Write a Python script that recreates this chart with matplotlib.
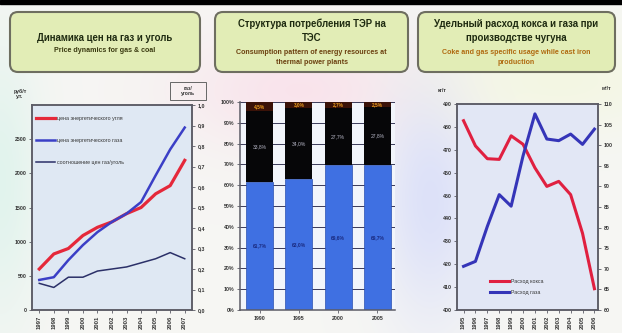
import numpy as np
import matplotlib
matplotlib.use("Agg")
import matplotlib.pyplot as plt
from matplotlib.patches import FancyBboxPatch, Rectangle
from matplotlib.ticker import FixedLocator

plt.rcParams['font.family'] = ['Liberation Sans', 'DejaVu Sans']

# ---------------- data ----------------
price_years = ["1997", "1998", "1999", "2000", "2001", "2002",
               "2003", "2004", "2005", "2006", "2007"]
coal_price = [600, 820, 900, 1090, 1210, 1290, 1410, 1500, 1700, 1820, 2190]
gas_price = [440, 480, 730, 950, 1140, 1290, 1410, 1580, 1970, 2350, 2670]
gas_coal_ratio = [0.13, 0.11, 0.16, 0.16, 0.19, 0.20, 0.21, 0.23, 0.25, 0.28, 0.25]

mix_years = ["1990", "1995", "2000", "2005"]
gas_share = [61.7, 63.0, 69.6, 69.7]
coal_share = [33.8, 34.0, 27.7, 27.8]
oil_share = [4.5, 3.0, 2.7, 2.5]

iron_years = ["1995", "1996", "1997", "1998", "1999", "2000",
              "2001", "2002", "2003", "2004", "2005", "2006"]
coke_rate = [482.7, 471.7, 466.1, 465.8, 476.1, 472.4,
             462.1, 454.0, 456.2, 450.4, 433.5, 409.3]
gas_rate = [70.6, 71.8, 80.3, 88.0, 85.2, 97.4,
            107.6, 101.5, 101.1, 102.7, 100.2, 103.9]

# ---------------- figure & backdrop ----------------
W, H = 622, 333
fig = plt.figure(figsize=(W / 100, H / 100), dpi=100)


def fig_rect(x0, y0, x1, y1):
    """Axes rectangle from pixel corners (origin top-left)."""
    return [x0 / W, 1 - y1 / H, (x1 - x0) / W, (y1 - y0) / H]


bg = fig.add_axes([0, 0, 1, 1], zorder=-5)
bg.set_xlim(0, W)
bg.set_ylim(H, 0)
bg.axis('off')

yy, xx = np.mgrid[0:H, 0:W]
img = np.ones((H, W, 3)) * np.array([0.965, 0.965, 0.955])


def tint(cx, cy, sx, sy, rgb, amt):
    g = np.exp(-(((xx - cx) / sx) ** 2 + ((yy - cy) / sy) ** 2))[..., None]
    return g * amt * (np.array(rgb) - img)


img += tint(300, 90, 120, 60, (0.98, 0.88, 0.92), 0.85)
img += tint(0, 180, 40, 140, (0.85, 0.95, 0.92), 0.7)
img += tint(430, 200, 50, 120, (0.85, 0.87, 0.98), 0.85)
img += tint(560, 80, 120, 50, (0.95, 0.97, 0.85), 0.6)
bg.imshow(np.clip(img, 0, 1), extent=[0, W, H, 0], aspect='auto', zorder=0)
bg.add_patch(Rectangle((0, 0), W, 3.5, color='black', zorder=1))

# ---------------- title boxes ----------------
boxes = [
    (10, 200, ["Динамика цен на газ и уголь"],
     ["Price dynamics for gas & coal"], '#3a3a10'),
    (215, 408, ["Структура потребления ТЭР на", "ТЭС"],
     ["Consumption pattern of energy resources at", "thermal power plants"], '#6b4010'),
    (418, 615, ["Удельный расход кокса и газа при", "производстве чугуна"],
     ["Coke and gas specific usage while cast iron", "production"], '#b06a10'),
]
for x0, x1, title, sub, subcol in boxes:
    bg.add_patch(FancyBboxPatch((x0, 12), x1 - x0, 60,
                                boxstyle="round,pad=0,rounding_size=8",
                                facecolor='#e2edb6', edgecolor='#6e6e60',
                                lw=1.5, zorder=2))
    cx = (x0 + x1) / 2
    n = len(title) + len(sub)
    if n == 2:
        ys = [38, 51]
    else:
        ys = [24, 38, 52, 62]
    for i, t in enumerate(title):
        bg.text(cx, ys[i], t, ha='center', va='center', fontsize=6.9,
                fontweight='bold', color='#1e2a10', zorder=3)
    for j, t in enumerate(sub):
        bg.text(cx, ys[len(title) + j], t, ha='center', va='center',
                fontsize=5.1, fontweight='bold', color=subcol, zorder=3)

SPINE = '#5c5c66'
TICKC = '#333333'


def style_axes(ax):
    for s in ax.spines.values():
        s.set_color(SPINE)
        s.set_linewidth(1.1)
    ax.tick_params(length=2, width=0.6, color=SPINE, labelsize=3.8,
                   labelcolor=TICKC, pad=2)
    for lab in ax.get_yticklabels():
        lab.set_fontweight('bold')


# ---------------- left chart: prices ----------------
ax1 = fig.add_axes(fig_rect(32, 105, 192, 310))
ax1.set_facecolor('#dfe8f3')
xp = np.arange(len(price_years))
l1, = ax1.plot(xp, coal_price, color='#e5283a', lw=2.3, solid_joinstyle='round',
               label='цена энергетического угля')
l2, = ax1.plot(xp, gas_price, color='#3b3fc6', lw=1.8, solid_joinstyle='round',
               label='цена энергетического газа')
ax1.set_xlim(-0.5, len(price_years) - 0.5)
ax1.set_ylim(0, 3000)
ax1.set_yticks(range(0, 3000, 500))
ax1.set_xticks(xp)
ax1.set_xticklabels(price_years, rotation=90, fontsize=4.2, fontweight='bold')
style_axes(ax1)
ax1.tick_params(axis='x', labelsize=4.2)

ax1r = ax1.twinx()
l3, = ax1r.plot(xp, gas_coal_ratio, color='#2b3068', lw=1.1,
                label='соотношение цен газ/уголь')
ax1r.set_ylim(0, 1.0)
rt = np.round(np.arange(0, 1.01, 0.1), 1)
ax1r.set_yticks(rt)
ax1r.set_yticklabels([f"{v:.1f}".replace('.', ',') for v in rt])
style_axes(ax1r)

ax1.legend(handles=[l1, l2, l3], loc='upper left', bbox_to_anchor=(0.0, 0.965),
           frameon=False, fontsize=3.8, handlelength=3.6, handletextpad=0.4,
           labelspacing=3.25, borderaxespad=0.3, labelcolor='#333333')

bg.text(20, 94, "руб/т\nу.т.", ha='center', va='center', fontsize=3.8,
        color=TICKC, fontweight='bold', zorder=3)
bg.add_patch(Rectangle((170, 82), 36, 18, facecolor='none', edgecolor='#666666',
                       lw=0.7, zorder=3))
bg.text(188, 91, "газ/\nуголь", ha='center', va='center', fontsize=3.6,
        color=TICKC, fontweight='bold', zorder=3)

# ---------------- middle chart: fuel mix ----------------
ax2 = fig.add_axes(fig_rect(240, 102, 395, 310))
ax2.set_facecolor('#f2f5fb')
xm = np.arange(len(mix_years))
bw = 0.69
coal_bottom = np.array(gas_share)
oil_bottom = coal_bottom + np.array(coal_share)
ax2.bar(xm, gas_share, bw, color='#3f70e2', edgecolor='#2a4fb0', lw=0.5, zorder=2)
ax2.bar(xm, coal_share, bw, bottom=coal_bottom, color='#060608', zorder=2)
ax2.bar(xm, oil_share, bw, bottom=oil_bottom, color='#3a1208', zorder=2)
for i in range(len(mix_years)):
    ax2.text(xm[i], gas_share[i] / 2, f"{gas_share[i]:.1f}%".replace('.', ','),
             ha='center', va='center', fontsize=3.6, color='#1a2a80',
             fontweight='bold', zorder=3)
    ax2.text(xm[i], coal_bottom[i] + coal_share[i] / 2,
             f"{coal_share[i]:.1f}%".replace('.', ','), ha='center', va='center',
             fontsize=3.6, color='#b8b8c8', zorder=3)
    ax2.text(xm[i], oil_bottom[i] + oil_share[i] / 2,
             f"{oil_share[i]:.1f}%".replace('.', ','), ha='center', va='center',
             fontsize=3.4, color='#f0a020', fontweight='bold', zorder=3)
ax2.set_xlim(-0.5, len(mix_years) - 0.55)
ax2.set_ylim(0, 100)
ax2.yaxis.set_major_locator(FixedLocator(range(0, 101, 10)))
ax2.set_yticklabels([f"{v}%" for v in range(0, 101, 10)])
ax2.grid(axis='y', color='#3a3a58', lw=0.7, zorder=0)
ax2.set_axisbelow(True)
ax2.set_xticks(xm)
ax2.set_xticklabels(mix_years, fontsize=4.2, fontweight='bold')
style_axes(ax2)
ax2.spines['top'].set_visible(False)
ax2.spines['right'].set_visible(False)

# ---------------- right chart: coke and gas rates ----------------
ax3 = fig.add_axes(fig_rect(457, 104, 598, 310))
ax3.set_facecolor('#e2e7f5')
xi = np.arange(len(iron_years))
r1, = ax3.plot(xi, coke_rate, color='#e02040', lw=2.2, solid_joinstyle='round',
               label='Расход кокса')
ax3.set_xlim(-0.55, len(iron_years) - 0.7)
ax3.set_ylim(400, 490)
ax3.set_yticks(range(400, 491, 10))
ax3.set_xticks(xi)
ax3.set_xticklabels(iron_years, rotation=90, fontsize=4.2, fontweight='bold')
style_axes(ax3)
ax3.tick_params(axis='x', labelsize=4.2)

ax3r = ax3.twinx()
r2, = ax3r.plot(xi, gas_rate, color='#3535b8', lw=2.2, solid_joinstyle='round',
                label='Расход газа')
ax3r.set_ylim(60, 110)
ax3r.set_yticks(range(60, 111, 5))
style_axes(ax3r)

ax3.legend(handles=[r1, r2], loc='lower left', bbox_to_anchor=(0.2, 0.05),
           frameon=False, fontsize=3.8, handlelength=3.6, handletextpad=0.3,
           labelspacing=1.2, labelcolor='#333333')

bg.text(442, 90, "кг/т", ha='center', va='center', fontsize=3.8,
        color=TICKC, fontweight='bold', zorder=3)
bg.text(606, 88, "м³/т", ha='center', va='center', fontsize=3.8,
        color=TICKC, fontweight='bold', zorder=3)

fig.savefig("out.png", dpi=100)
